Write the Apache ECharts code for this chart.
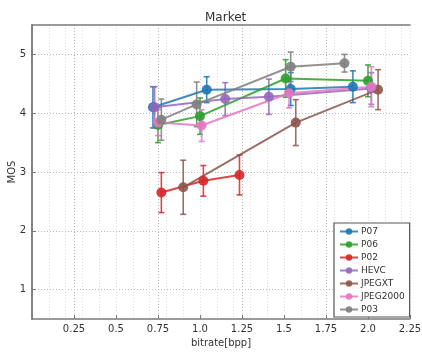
<!DOCTYPE html>
<html>
<head>
<meta charset="utf-8">
<script src="https://cdn.jsdelivr.net/npm/echarts@6/dist/echarts.min.js"></script>
<style>
  html, body { margin: 0; padding: 0; background: #fff; }
  #chart { width: 422px; height: 352px; }
</style>
</head>
<body>
<div id="chart"></div>
<script>
// values
const xTicks = [0.25, 0.5, 0.75, 1.0, 1.25, 1.5, 1.75, 2.0, 2.25]
const xTickLabels = ['0.25', '0.5', '0.75', '1.0', '1.25', '1.5', '1.75', '2.0', '2.25']
const yTicks = [1, 2, 3, 4, 5]
const yTickLabels = ['1', '2', '3', '4', '5']

const p07X = [0.72, 1.04, 1.54, 1.91]
const p07Y = [4.10, 4.40, 4.41, 4.45]
const p07Err = [0.35, 0.22, 0.28, 0.27]

const p06X = [0.75, 1.00, 1.51, 2.00]
const p06Y = [3.80, 3.95, 4.59, 4.55]
const p06Err = [0.30, 0.31, 0.32, 0.27]

const p02X = [0.77, 1.02, 1.235]
const p02Y = [2.65, 2.85, 2.95]
const p02Err = [0.34, 0.26, 0.34]

const hevcX = [0.73, 1.15, 1.41, 2.02]
const hevcY = [4.10, 4.24, 4.28, 4.42]
const hevcErr = [0.35, 0.28, 0.30, 0.27]

const jpegxtX = [0.90, 1.57, 2.06]
const jpegxtY = [2.74, 3.84, 4.40]
const jpegxtErr = [0.46, 0.39, 0.34]

const jpeg2000X = [0.75, 1.01, 1.53, 2.02]
const jpeg2000Y = [3.84, 3.79, 4.34, 4.45]
const jpeg2000Err = [0.22, 0.27, 0.25, 0.34]

const p03X = [0.77, 0.98, 1.54, 1.86]
const p03Y = [3.89, 4.15, 4.79, 4.85]
const p03Err = [0.35, 0.38, 0.25, 0.15]

const seriesDefs = [
  { name: 'P07', color: '#1f77b4', x: p07X, y: p07Y, err: p07Err },
  { name: 'P06', color: '#2ca02c', x: p06X, y: p06Y, err: p06Err },
  { name: 'P02', color: '#d62728', x: p02X, y: p02Y, err: p02Err },
  { name: 'HEVC', color: '#9467bd', x: hevcX, y: hevcY, err: hevcErr },
  { name: 'JPEGXT', color: '#8c564b', x: jpegxtX, y: jpegxtY, err: jpegxtErr },
  { name: 'JPEG2000', color: '#e377c2', x: jpeg2000X, y: jpeg2000Y, err: jpeg2000Err },
  { name: 'P03', color: '#7f7f7f', x: p03X, y: p03Y, err: p03Err }
]

const font = 'DejaVu Sans'
const textColor = '#333'
const spine = { show: true, lineStyle: { color: '#7a7a7a', width: 1.5 } }

// error bars: vertical line plus small caps
const renderErr = (params, api) => {
  const x = api.value(0)
  const top = api.coord([x, api.value(2)])
  const bot = api.coord([x, api.value(1)])
  const color = api.visual('color')
  const style = { stroke: color, lineWidth: 1.6, opacity: 0.85 }
  const w = 3
  return {
    type: 'group',
    children: [
      { type: 'line', shape: { x1: top[0], y1: top[1], x2: bot[0], y2: bot[1] }, style },
      { type: 'line', shape: { x1: top[0] - w, y1: top[1], x2: top[0] + w, y2: top[1] }, style },
      { type: 'line', shape: { x1: bot[0] - w, y1: bot[1], x2: bot[0] + w, y2: bot[1] }, style }
    ]
  }
}

const series = []
seriesDefs.forEach(s => {
  series.push({
    name: s.name + '_err',
    type: 'custom',
    renderItem: renderErr,
    itemStyle: { color: s.color },
    encode: { x: 0, y: [1, 2] },
    data: s.x.map((v, i) => [v, s.y[i] - s.err[i], s.y[i] + s.err[i]]),
    silent: true
  })
  series.push({
    name: s.name,
    type: 'line',
    symbol: 'circle',
    symbolSize: 10,
    lineStyle: { color: s.color, width: 2, opacity: 0.85 },
    itemStyle: { color: s.color, opacity: 0.9 },
    data: s.x.map((v, i) => [v, s.y[i]])
  })
})

const chart = echarts.init(document.getElementById('chart'), null, { renderer: 'canvas' })

const option = {
  animation: false,
  backgroundColor: '#fff',
  title: {
    text: 'Market',
    left: 200,
    top: 7,
    textStyle: { fontFamily: font, fontSize: 12, fontWeight: 'normal', color: textColor }
  },
  legend: {
    data: seriesDefs.map(s => s.name),
    orient: 'vertical',
    left: 334,
    top: 223,
    itemWidth: 18,
    itemHeight: 8,
    itemGap: 4,
    padding: [4, 5, 3, 5],
    borderColor: '#555',
    borderWidth: 1.2,
    backgroundColor: '#fff',
    textStyle: { fontFamily: font, fontSize: 9, color: textColor, padding: [0, 0, 0, -2] }
  },
  grid: { left: 32, right: 12, top: 25, bottom: 33, outerBoundsMode: 'none' },
  xAxis: [
    {
      type: 'value',
      min: 0,
      max: 2.25,
      interval: 0.25,
      name: 'bitrate[bpp]',
      nameLocation: 'middle',
      nameGap: 19,
      nameTextStyle: { fontFamily: font, fontSize: 10, color: textColor },
      axisLine: spine,
      axisTick: { show: true, inside: true, length: 4, customValues: xTicks, lineStyle: { color: '#7a7a7a' } },
      axisLabel: {
        customValues: xTicks,
        fontFamily: font,
        fontSize: 10,
        color: textColor,
        margin: 5,
        formatter: v => {
          const i = xTicks.indexOf(v)
          return i >= 0 ? xTickLabels[i] : ''
        }
      },
      splitLine: { show: true, lineStyle: { color: '#b8b8b8', type: [1, 2], width: 1 } }
    },
    {
      // minor grid and top spine
      type: 'value',
      position: 'top',
      min: 0,
      max: 2.25,
      interval: 0.1,
      axisLine: spine,
      axisTick: { show: false },
      axisLabel: { show: false },
      splitLine: { show: true, lineStyle: { color: '#dedede', type: [1, 2], width: 1 } }
    }
  ],
  yAxis: [
    {
      type: 'value',
      min: 0.5,
      max: 5.5,
      name: 'MOS',
      nameLocation: 'middle',
      nameGap: 15,
      nameMoveOverlap: false,
      nameTextStyle: { fontFamily: font, fontSize: 10, color: textColor },
      axisLine: spine,
      axisTick: { show: true, inside: true, length: 4, customValues: yTicks, lineStyle: { color: '#7a7a7a' } },
      axisLabel: {
        customValues: yTicks,
        fontFamily: font,
        fontSize: 10,
        color: textColor,
        margin: 6,
        formatter: v => {
          const i = yTicks.indexOf(v)
          return i >= 0 ? yTickLabels[i] : ''
        }
      },
      splitLine: { show: true, lineStyle: { color: '#b8b8b8', type: [1, 2], width: 1 } }
    },
    {
      type: 'value',
      position: 'right',
      min: 0.5,
      max: 5.5,
      axisLine: spine,
      axisTick: { show: false },
      axisLabel: { show: false },
      splitLine: { show: false }
    }
  ],
  series: series
}

chart.setOption(option)
</script>
</body>
</html>
